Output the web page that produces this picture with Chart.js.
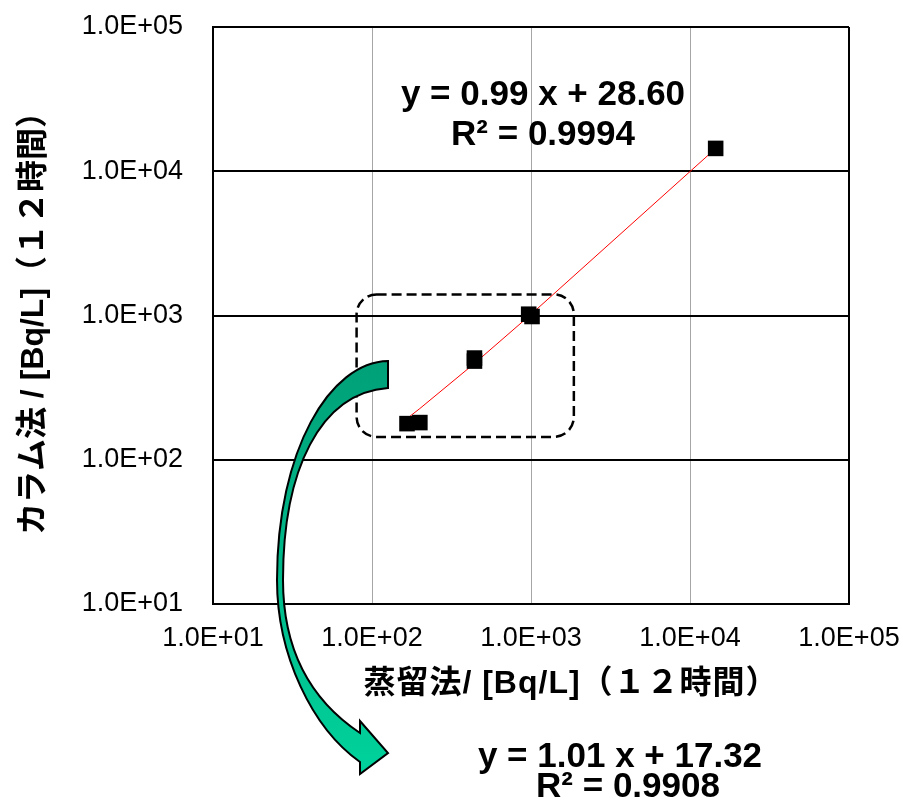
<!DOCTYPE html>
<html><head><meta charset="utf-8">
<script src="https://cdn.jsdelivr.net/npm/chart.js@4/dist/chart.umd.min.js"></script>
<style>html,body{margin:0;padding:0;background:#fff}#wrap{width:903px;height:812px;position:relative}</style>
</head><body><div id="wrap"><canvas id="c"></canvas></div>
<script>
// ---- data ----
const xValues = [166, 200, 441, 441, 967, 1015, 14500];   // 蒸留法
const yValues = [178, 181, 507, 483, 1021, 984, 14400];   // カラム法
const tickValues = [10, 100, 1000, 10000, 100000];
const tickLabels = ['1.0E+01', '1.0E+02', '1.0E+03', '1.0E+04', '1.0E+05'];
const fitAllSlope = 0.99, fitAllIntercept = 28.60, fitAllR2 = '0.9994';
const fitSubSlope = 1.01, fitSubIntercept = 17.32, fitSubR2 = '0.9908';
const xTitle = '蒸留法/ [Bq/L]（１２時間）';
const yTitle = 'カラム法 / [Bq/L]（１２時間）';
const boxRange = {xMin: 80, xMax: 1860, yMin: 144, yMax: 1400}; // highlighted sub-range

const points = xValues.map((x, i) => ({x, y: yValues[i]}));
const trendX = [...new Set(xValues)].sort((a, b) => a - b);
const trend = trendX.map(x => ({x, y: fitAllSlope * x + fitAllIntercept}));
const eqAll = ['y = ' + fitAllSlope.toFixed(2) + ' x + ' + fitAllIntercept.toFixed(2), 'R² = ' + fitAllR2];
const eqSub = ['y = ' + fitSubSlope.toFixed(2) + ' x + ' + fitSubIntercept.toFixed(2), 'R² = ' + fitSubR2];

const LATIN = '"Liberation Sans", Arial, "Noto Sans CJK JP", sans-serif';
const TICKFONT = '"Liberation Sans", Arial, sans-serif';

function labelFor(v) {
  const i = tickValues.indexOf(v);
  return i >= 0 ? tickLabels[i] : '';
}
function zeroPad(s) { s.paddingTop = 0; s.paddingBottom = 0; s.paddingLeft = 0; s.paddingRight = 0; }

const decor = {
  id: 'decor',
  beforeDatasetsDraw(chart) {
    const {ctx, scales: {x, y}} = chart;
    const l = x.getPixelForValue(boxRange.xMin), r = x.getPixelForValue(boxRange.xMax);
    const t = y.getPixelForValue(boxRange.yMax), b = y.getPixelForValue(boxRange.yMin);
    ctx.save();
    ctx.strokeStyle = '#000';
    ctx.lineWidth = 2.5;
    ctx.setLineDash([10, 5]);
    ctx.beginPath();
    ctx.roundRect(l, t, r - l, b - t, 20);
    ctx.stroke();
    ctx.restore();
  },
  afterDraw(chart) {
    const {ctx} = chart;
    ctx.save();
    // curved arrow
    const g = ctx.createLinearGradient(0, 360, 0, 775);
    g.addColorStop(0, '#00A078');
    g.addColorStop(1, '#00D29C');
    ctx.beginPath();
    ctx.moveTo(388, 361);
    ctx.bezierCurveTo(330, 362, 277, 450, 277, 580);
    ctx.bezierCurveTo(277, 655, 312, 728, 360, 762);
    ctx.lineTo(360, 774);
    ctx.lineTo(388, 753);
    ctx.lineTo(360, 721);
    ctx.lineTo(360, 733);
    ctx.bezierCurveTo(318, 705, 283, 660, 283, 580);
    ctx.bezierCurveTo(283, 470, 320, 393, 388, 388);
    ctx.closePath();
    ctx.fillStyle = g;
    ctx.fill();
    ctx.lineWidth = 2;
    ctx.lineJoin = 'miter';
    ctx.strokeStyle = '#000';
    ctx.stroke();
    // equations
    ctx.fillStyle = '#000';
    ctx.font = 'bold 35px ' + LATIN;
    ctx.textAlign = 'center';
    ctx.textBaseline = 'alphabetic';
    ctx.fillText(eqAll[0], 543, 105);
    ctx.fillText(eqAll[1], 543, 145);
    ctx.fillText(eqSub[0], 620, 767);
    ctx.fillText(eqSub[1], 628, 797);
    // x axis title
    ctx.font = 'bold 32px ' + LATIN;
    ctx.textBaseline = 'middle';
    ctx.letterSpacing = '1px';
    ctx.fillText(xTitle, 571, 684);
    ctx.restore();
  }
};

new Chart(document.getElementById('c'), {
  type: 'scatter',
  data: {
    datasets: [
      {
        label: 'trend', type: 'line', data: trend,
        borderColor: '#FF0000', borderWidth: 1, pointRadius: 0, fill: false, order: 2
      },
      {
        label: 'data', data: points,
        pointStyle: 'rect', pointRadius: 11, pointHoverRadius: 11,
        backgroundColor: '#000', borderColor: '#000', borderWidth: 0, order: 1
      }
    ]
  },
  options: {
    responsive: true, maintainAspectRatio: false, animation: false,
    layout: {padding: {left: 0, right: 54, top: 27, bottom: 0}},
    plugins: {legend: {display: false}, tooltip: {enabled: false}},
    scales: {
      x: {
        type: 'logarithmic', min: 10, max: 100000,
        afterBuildTicks(s) { s.ticks = tickValues.map(v => ({value: v})); },
        afterFit(s) { s.height = 208; zeroPad(s); },
        ticks: {
          callback: v => labelFor(v), autoSkip: false, maxRotation: 0, minRotation: 0,
          color: '#000', font: {family: TICKFONT, size: 27}, padding: 18
        },
        grid: {
          drawTicks: false,
          color: c => (c.tick && c.tick.value === 100000) ? '#000' : '#A6A6A6',
          lineWidth: c => (c.tick && c.tick.value === 100000) ? 2 : 1
        },
        border: {color: '#000', width: 2}
      },
      y: {
        type: 'logarithmic', min: 10, max: 100000,
        afterBuildTicks(s) { s.ticks = tickValues.map(v => ({value: v})); },
        afterFit(s) { s.width = 213; zeroPad(s); },
        ticks: {
          callback: v => labelFor(v), autoSkip: false,
          color: '#000', font: {family: TICKFONT, size: 27}, padding: 30
        },
        grid: {drawTicks: false, color: '#000', lineWidth: 2},
        border: {color: '#000', width: 2},
        title: {
          display: true, text: yTitle, color: '#000',
          font: {family: LATIN, size: 32, weight: 'bold'}, padding: {top: 15, bottom: 0}
        }
      }
    }
  },
  plugins: [decor]
});
</script></body></html>
